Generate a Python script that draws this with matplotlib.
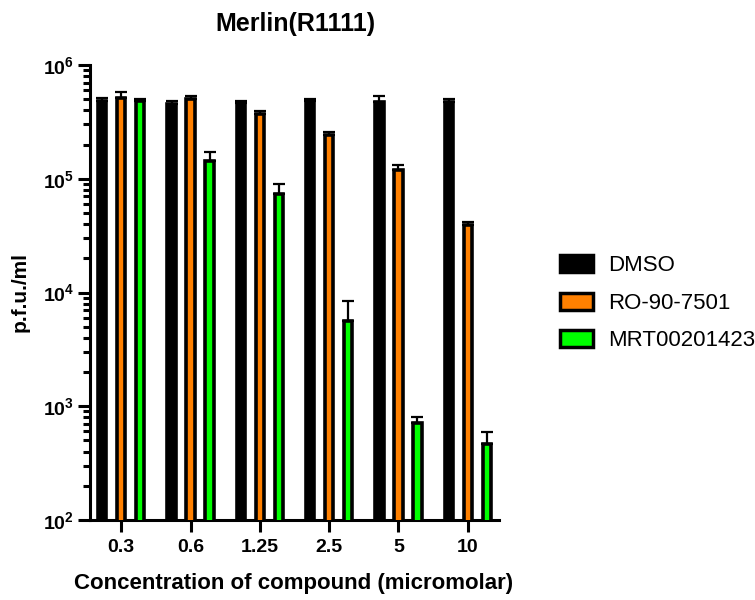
import numpy as np
import matplotlib.pyplot as plt
from matplotlib.patches import Patch
from matplotlib.ticker import LogLocator, NullFormatter, FuncFormatter

plt.rcParams["font.family"] = ["Liberation Sans", "DejaVu Sans"]
plt.rcParams["mathtext.fontset"] = "custom"
plt.rcParams["mathtext.rm"] = "Liberation Sans"
plt.rcParams["mathtext.bf"] = "Liberation Sans:bold"

# Datos (p.f.u./ml, error solo hacia arriba)
concentraciones = ["0.3", "0.6", "1.25", "2.5", "5", "10"]
nombres = ["DMSO", "RO-90-7501", "MRT00201423"]
colores = ["#000000", "#FF8000", "#00FF00"]

dmso = [4.8e5, 4.5e5, 4.6e5, 4.8e5, 4.7e5, 4.75e5]
dmso_err = [3.0e4, 3.0e4, 2.5e4, 2.5e4, 6.0e4, 2.5e4]

ro = [5.15e5, 5.05e5, 3.72e5, 2.44e5, 1.19e5, 3.95e4]
ro_err = [6.1e4, 2.5e4, 2.2e4, 1.4e4, 1.2e4, 2.5e3]

mrt = [4.8e5, 1.42e5, 7.4e4, 5.57e3, 716, 463]
mrt_err = [2.7e4, 3.1e4, 1.6e4, 2.8e3, 88, 130]

valores = [dmso, ro, mrt]
errores = [dmso_err, ro_err, mrt_err]

fig = plt.figure(figsize=(7.55, 6.0), dpi=100)
ax = fig.add_axes([90 / 755, 1 - 520 / 600, 409 / 755, 455 / 600])
ax.set_yscale("log")

x = np.arange(len(concentraciones))
ancho = 0.12
desplazamiento = 0.274

for i in range(3):
    pos = x + (i - 1) * desplazamiento
    alturas = np.array(valores[i])
    ax.bar(pos, alturas - 1, width=ancho, bottom=1, color=colores[i],
           edgecolor="black", linewidth=2.6, zorder=3)
    ax.errorbar(pos, alturas, yerr=[np.zeros(len(pos)), errores[i]], fmt="none",
                ecolor="black", elinewidth=1.6, capsize=4, capthick=1.6, zorder=2)

ax.set_xlim(-0.45, 5.45)
ax.set_ylim(1e2, 1e6)

ax.spines["top"].set_visible(False)
ax.spines["right"].set_visible(False)
ax.spines["left"].set_linewidth(2.2)
ax.spines["bottom"].set_linewidth(2.2)

ax.set_xticks(x)
ax.set_xticklabels(concentraciones, fontsize=14, fontweight="bold")
ax.yaxis.set_major_locator(LogLocator(base=10, numticks=10))
ax.yaxis.set_minor_locator(LogLocator(base=10, subs=np.arange(2, 10), numticks=10))
ax.yaxis.set_minor_formatter(NullFormatter())
ax.yaxis.set_major_formatter(FuncFormatter(lambda v, p: r"$\mathbf{10^{%d}}$" % round(np.log10(v))))
ax.tick_params(axis="y", which="major", length=8.6, width=2.2, labelsize=14, pad=3)
ax.tick_params(axis="y", which="minor", length=5, width=2.2)
ax.tick_params(axis="x", which="major", length=8.6, width=2.2, pad=5)

fig.text(295 / 755, 1 - 24 / 600, "Merlin(R1111)", fontsize=18, fontweight="bold",
         ha="center", va="center")
fig.text(294 / 755, 1 - 584 / 600, "Concentration of compound (micromolar)", fontsize=16,
         fontweight="bold", ha="center", va="center")
fig.text(20 / 755, 1 - 292 / 600, "p.f.u./ml", fontsize=15, fontweight="bold",
         rotation=90, ha="center", va="center")

manijas = [Patch(facecolor=c, edgecolor="black", linewidth=2.5) for c in colores]
fig.legend(manijas, nombres, loc="upper left", bbox_to_anchor=(560 / 755, 1 - 255 / 600),
           frameon=False, fontsize=16, borderpad=0, borderaxespad=0,
           handlelength=1.49, handleheight=0.81, handletextpad=0.68, labelspacing=0.73)

fig.savefig("out.png", dpi=100)
